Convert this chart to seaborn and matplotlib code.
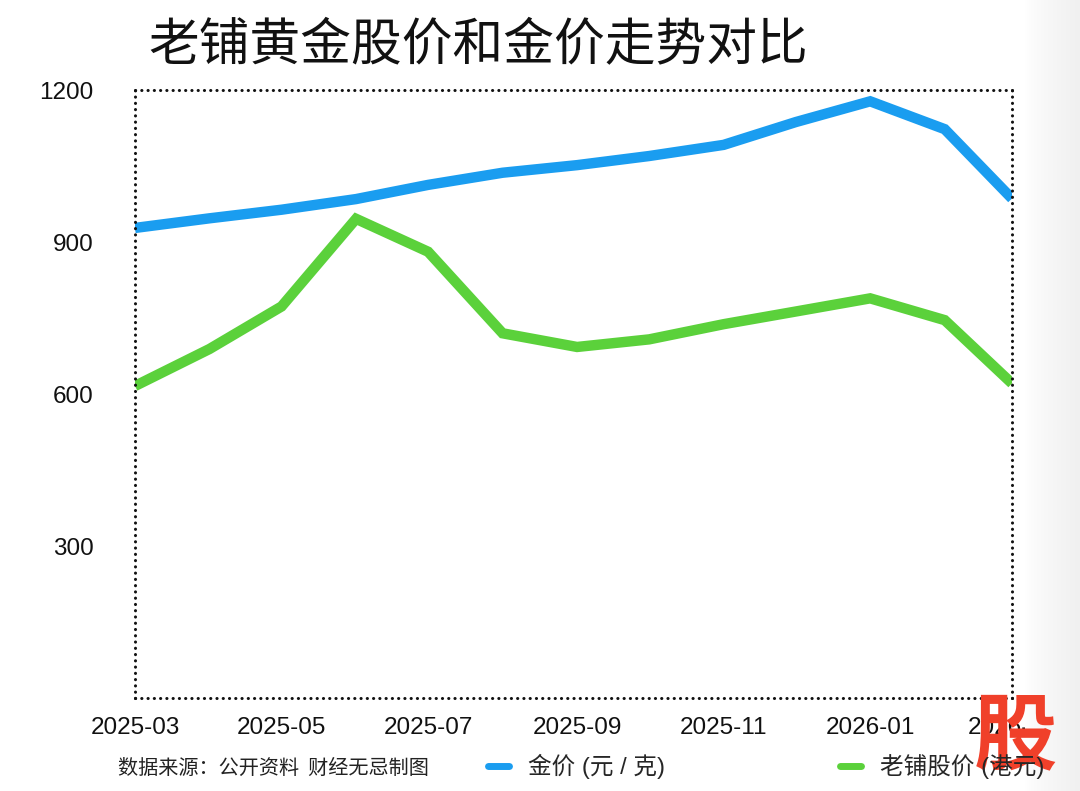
import matplotlib.pyplot as plt
import matplotlib.dates as mdates
import numpy as np
import pandas as pd
import seaborn as sns

# 月度数据
months = pd.date_range('2025-03-01', '2026-03-01', freq='MS')
gold_price = [928, 947, 964, 985, 1013, 1037, 1052, 1070, 1092, 1137, 1178, 1123, 986]
stock_price = [616, 689, 773, 946, 881, 720, 693, 708, 738, 763, 789, 746, 621]
series_names = ['金价 (元 / 克)', '老铺股价 (港元)']
colors = ['#1a9df0', '#5bd13b']
y_ticks = [300, 600, 900, 1200]

df = pd.DataFrame({
    '月份': list(months) * 2,
    '价格': gold_price + stock_price,
    '系列': [series_names[0]] * len(months) + [series_names[1]] * len(months),
})

sns.set_style('white')
plt.rcParams['font.family'] = ['Liberation Sans', 'Noto Sans CJK SC']
plt.rcParams['axes.unicode_minus'] = False

fig = plt.figure(figsize=(10.8, 7.91), dpi=100)
ax = fig.add_axes([0.125, 0.1176, 0.812, 0.7684])

sns.lineplot(data=df, x='月份', y='价格', hue='系列', palette=colors,
             linewidth=7.5, ax=ax, legend=False)
for line in ax.lines:
    line.set_solid_joinstyle('miter')
    line.set_solid_capstyle('butt')

ax.set_xlim(months[0], months[-1])
ax.set_ylim(0, 1200)
ax.set_yticks(y_ticks)
ax.xaxis.set_major_locator(mdates.MonthLocator(bymonth=[1, 3, 5, 7, 9, 11]))
ax.xaxis.set_major_formatter(mdates.DateFormatter('%Y-%m'))
ax.set_xlabel('')
ax.set_ylabel('')
ax.tick_params(axis='both', length=0, labelsize=17.5, colors='#111111')
ax.tick_params(axis='y', pad=30)
ax.tick_params(axis='x', pad=14)

# 点状边框
for sp in ax.spines.values():
    sp.set_visible(True)
    sp.set_color('#111111')
    sp.set_linewidth(2.2)
    sp.set_linestyle((0, (0.05, 2.0)))
    sp.set_capstyle('round')

# 标题
fig.text(0.137, 0.943, '老铺黄金股价和金价走势对比', fontsize=36.5,
         family=['Noto Sans CJK SC'], ha='left', va='center', color='#111111')

# 图例
handles = [plt.Line2D([], [], color=c, linewidth=5) for c in colors]
fig.legend(handles, series_names, loc='center left',
           bbox_to_anchor=(0.452, 0.031), ncol=2, frameon=False,
           fontsize=17, handlelength=0.9, handletextpad=0.8,
           columnspacing=7.4, borderpad=0, borderaxespad=0)

fig.text(0.109, 0.029, '数据来源：公开资料  财经无忌制图', fontsize=14.5,
         family=['Noto Sans CJK SC'], ha='left', va='center', color='#222222')

# 右侧灰色阴影
shade = fig.add_axes([1025 / 1080, 0, 55 / 1080, 1])
grad = np.linspace(0, 1, 100).reshape(1, -1) ** 0.7
shade.imshow(grad, aspect='auto', cmap='Greys', vmin=0, vmax=8, extent=[0, 1, 0, 1])
shade.axis('off')

# 角标
fig.text(1015 / 1080, 1 - 738 / 791, '股', fontsize=60, fontweight='heavy',
         family=['Noto Sans CJK SC'], color='#f0402a', ha='center', va='center')

fig.savefig('out.png', dpi=100)
